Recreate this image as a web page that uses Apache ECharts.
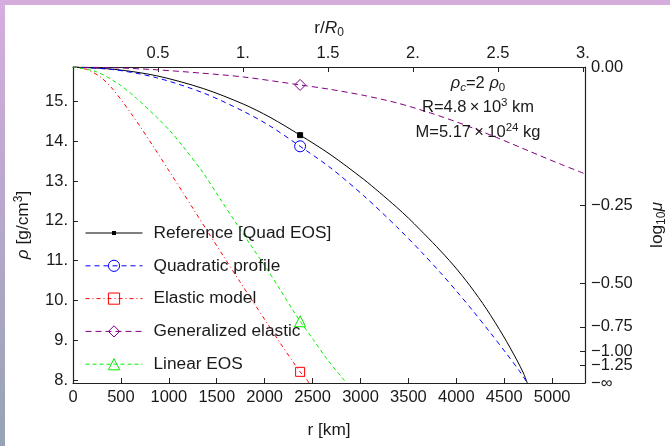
<!DOCTYPE html>
<html>
<head>
<meta charset="utf-8">
<script src="https://cdn.jsdelivr.net/npm/echarts@6/dist/echarts.min.js"></script>
<style>
  html, body { margin: 0; padding: 0; background: #fff; }
  #chart { width: 670px; height: 446px; }
</style>
</head>
<body>
<div id="chart"></div>
<script>
// Density profiles of a self-gravitating body, rho(r), for several models.
const rho0 = 7.93;            // surface density rho_0 [g/cm^3]
const rhoC = 2 * rho0;        // central density rho_c = 2 rho_0
const rMax = 5343;            // right end of the r axis [km]
const R0 = 1774;              // length scale of the upper r/R0 axis [km]
const markR = 2370;           // radius where each curve carries its marker

// Tick positions / labels
const xTicks = [0, 500, 1000, 1500, 2000, 2500, 3000, 3500, 4000, 4500, 5000];
const yTicks = [8, 9, 10, 11, 12, 13, 14, 15];
const topTicks = [0.5, 1, 1.5, 2, 2.5, 3];
const muTicks = [0, -0.25, -0.5, -0.75, -1, -1.25, -Infinity];
const muTickLabels = ['0.00', '\u22120.25', '\u22120.50', '\u22120.75', '\u22121.00', '\u22121.25', '\u2212\u221e'];

// Reference [Quad EOS]
const refR   = [0, 436, 873, 1359, 1777, 2055, 2370, 2682, 3029, 3200, 3378, 3500, 3621, 3795, 3969, 4143, 4317, 4491, 4631, 4700, 4741];
const refRho = [15.86, 15.80, 15.64, 15.32, 14.93, 14.60, 14.15, 13.67, 13.05, 12.71, 12.34, 12.07, 11.78, 11.35, 10.89, 10.37, 9.78, 9.11, 8.51, 8.18, 7.93];

// Quadratic profile
const quadR   = [0, 436, 873, 1359, 1777, 2055, 2370, 2682, 3029, 3378, 3639, 3830, 4004, 4177, 4352, 4526, 4665, 4741];
const quadRho = [15.86, 15.79, 15.59, 15.21, 14.75, 14.38, 13.87, 13.34, 12.64, 11.85, 11.21, 10.71, 10.23, 9.73, 9.20, 8.66, 8.21, 7.93];

// Elastic model
const elR   = [0, 140, 280, 420, 628, 837, 1011, 1150, 1255, 1411, 1568, 1742, 1881, 2021, 2160, 2299, 2370, 2438, 2462];
const elRho = [15.86, 15.80, 15.62, 15.29, 14.62, 13.87, 13.22, 12.70, 12.30, 11.71, 11.12, 10.47, 9.96, 9.45, 8.94, 8.45, 8.21, 8.02, 7.93];

// Generalized elastic
const genR   = [0, 436, 873, 1320, 1777, 2370, 2682, 3029, 3378, 3726, 4073, 4422, 4769, 5100, 5343];
const genRho = [15.86, 15.84, 15.79, 15.71, 15.61, 15.41, 15.30, 15.15, 14.96, 14.71, 14.42, 14.09, 13.74, 13.41, 13.18];

// Linear EOS
const linR   = [0, 246, 490, 664, 873, 1011, 1150, 1359, 1533, 1708, 1846, 2021, 2160, 2299, 2370, 2507, 2647, 2820, 2850];
const linRho = [15.86, 15.74, 15.41, 15.07, 14.60, 14.26, 13.86, 13.20, 12.56, 11.92, 11.42, 10.80, 10.28, 9.74, 9.48, 9.02, 8.54, 8.03, 7.93];

const FONT = '"Liberation Sans", Arial, sans-serif';
const INK = '#1a1a1a';
const FRAME = '#222222';

const models = [
  { name: 'Reference [Quad EOS]', r: refR,  rho: refRho,  color: '#000000', dash: 'solid',      symbol: 'rect',     size: 5,  fill: '#000000' },
  { name: 'Quadratic profile',    r: quadR, rho: quadRho, color: '#0000ff', dash: [5, 4],       symbol: 'circle',   size: 11, fill: 'rgba(0,0,0,0)' },
  { name: 'Elastic model',        r: elR,   rho: elRho,   color: '#ff0000', dash: [4, 3, 1, 3], symbol: 'rect',     size: 9,  fill: 'rgba(0,0,0,0)' },
  { name: 'Generalized elastic',  r: genR,  rho: genRho,  color: '#800080', dash: [6, 4],       symbol: 'diamond',  size: 11, fill: 'rgba(0,0,0,0)' },
  { name: 'Linear EOS',           r: linR,  rho: linRho,  color: '#00f000', dash: [4, 3],       symbol: 'triangle', size: 11, fill: 'rgba(0,0,0,0)' }
];

const series = models.map(m => ({
  type: 'line',
  name: m.name,
  xAxisIndex: 0,
  yAxisIndex: 0,
  data: m.r.map((x, i) => x === markR ? { value: [x, m.rho[i]] } : { value: [x, m.rho[i]], symbol: 'none' }),
  symbol: m.symbol,
  symbolSize: m.size,
  showSymbol: true,
  showAllSymbol: true,
  smooth: 0.3,
  clip: true,
  silent: true,
  lineStyle: { color: m.color, width: 1, type: m.dash },
  itemStyle: { color: m.fill, borderColor: m.color, borderWidth: 1 },
  emphasis: { disabled: true }
}));

const dot = v => Number.isInteger(v) ? v + '.' : String(v);
const muValues = muTicks.map(v => rho0 * (1 + Math.pow(10, v)));
const muLabel = v => {
  let best = 0;
  muValues.forEach((u, i) => { if (Math.abs(u - v) < Math.abs(muValues[best] - v)) best = i; });
  return muTickLabels[best];
};

const richBase = {
  i:   { fontFamily: FONT, fontSize: 17.3, fontStyle: 'italic', color: INK, lineHeight: 21 },
  sub: { fontFamily: FONT, fontSize: 12, color: INK, lineHeight: 12, verticalAlign: 'bottom' },
  isub:{ fontFamily: FONT, fontSize: 12, fontStyle: 'italic', color: INK, lineHeight: 12, verticalAlign: 'bottom' },
  sup: { fontFamily: FONT, fontSize: 12, color: INK, lineHeight: 12, verticalAlign: 'top' }
};
const nameStyle = { fontFamily: FONT, fontSize: 17.3, color: INK, lineHeight: 21, rich: richBase };

const axisLine = { show: true, onZero: false, lineStyle: { color: FRAME, width: 1.2 } };
const tick = vals => ({ show: true, inside: true, length: 5, customValues: vals, lineStyle: { color: FRAME, width: 1 } });
const label = (vals, fmt, margin) => ({
  show: true, customValues: vals, formatter: fmt, margin: margin,
  fontFamily: FONT, fontSize: 16.5, color: INK
});

const annRich = {
  i:    { fontFamily: FONT, fontSize: 16.5, fontStyle: 'italic', fill: INK, lineHeight: 21 },
  sub:  { fontFamily: FONT, fontSize: 11.5, fill: INK, lineHeight: 11.5, verticalAlign: 'bottom' },
  isub: { fontFamily: FONT, fontSize: 11.5, fontStyle: 'italic', fill: INK, lineHeight: 11.5, verticalAlign: 'bottom' },
  sup:  { fontFamily: FONT, fontSize: 11.5, fill: INK, lineHeight: 11.5, verticalAlign: 'top' }
};
const annotation = (text, y) => ({
  type: 'text', x: 478, y: y, silent: true, z: 10,
  style: {
    text: text, rich: annRich,
    fontFamily: FONT, fontSize: 16.5, fill: INK, lineHeight: 21,
    align: 'center', textAlign: 'center', verticalAlign: 'middle', textVerticalAlign: 'middle'
  }
});

const option = {
  animation: false,
  backgroundColor: '#ffffff',
  textStyle: { fontFamily: FONT },
  grid: { left: 73, right: 85, top: 67, bottom: 63, containLabel: false, outerBoundsMode: 'none' },
  xAxis: [
    {
      type: 'value', position: 'bottom', min: 0, max: rMax,
      axisLine: axisLine, axisTick: tick(xTicks), splitLine: { show: false },
      axisLabel: label(xTicks, v => String(v), 6),
      name: 'r [km]', nameLocation: 'middle', nameGap: 37, nameTextStyle: nameStyle
    },
    {
      type: 'value', position: 'top', min: 0, max: rMax / R0,
      axisLine: axisLine, axisTick: tick(topTicks), splitLine: { show: false },
      axisLabel: label(topTicks, dot, 5),
      name: 'r/{i|R}{sub|0}', nameLocation: 'middle', nameGap: 28, nameTextStyle: nameStyle
    }
  ],
  yAxis: [
    {
      type: 'value', position: 'left', min: rho0, max: rhoC,
      axisLine: axisLine, axisTick: tick(yTicks), splitLine: { show: false },
      axisLabel: label(yTicks, dot, 5),
      name: '{i|\u03c1} [g/cm{sup|3}]', nameLocation: 'middle', nameGap: 34, nameTextStyle: nameStyle
    },
    {
      type: 'value', position: 'right', min: rho0, max: rhoC,
      axisLine: axisLine, axisTick: tick(muValues), splitLine: { show: false },
      axisLabel: Object.assign(label(muValues, muLabel, 6), { align: 'left' }),
      name: 'log{sub|10}{i|\u03bc}', nameLocation: 'middle', nameGap: 62, nameTextStyle: nameStyle
    }
  ],
  legend: {
    orient: 'vertical', left: 85, top: 223, padding: 0,
    itemWidth: 57, itemHeight: 14, itemGap: 12.8,
    selectedMode: false,
    itemStyle: { borderWidth: 1 },
    lineStyle: { width: 1 },
    textStyle: { fontFamily: FONT, fontSize: 17.3, color: INK, lineHeight: 20, padding: [0, 0, 0, 6] },
    data: [
      { name: 'Reference [Quad EOS]', icon: 'path://M0,4H57V5H0Z M26.5,2.5H30.5V6.5H26.5Z', itemStyle: { borderWidth: 0 } },
      { name: 'Quadratic profile' },
      { name: 'Elastic model' },
      { name: 'Generalized elastic' },
      { name: 'Linear EOS' }
    ]
  },
  graphic: [
    { type: 'rect', x: 0, y: 0, z: -10, silent: true, shape: { width: 670, height: 5 }, style: { fill: '#d5addd' } },
    {
      type: 'rect', x: 0, y: 0, z: -10, silent: true, shape: { width: 5, height: 446 },
      style: { fill: new echarts.graphic.LinearGradient(0, 0, 0, 1, [
        { offset: 0, color: '#d6addf' }, { offset: 1, color: '#96a3b4' }
      ]) }
    },
    annotation('{i|\u03c1}{isub|c}=2 {i|\u03c1}{sub|0}', 83),
    annotation('R=4.8\u2009\u00d7\u200910{sup|3} km', 107),
    annotation('M=5.17\u2009\u00d7\u200910{sup|24} kg', 132)
  ],
  series: series
};

const chart = echarts.init(document.getElementById('chart'));
chart.setOption(option);
</script>
</body>
</html>
